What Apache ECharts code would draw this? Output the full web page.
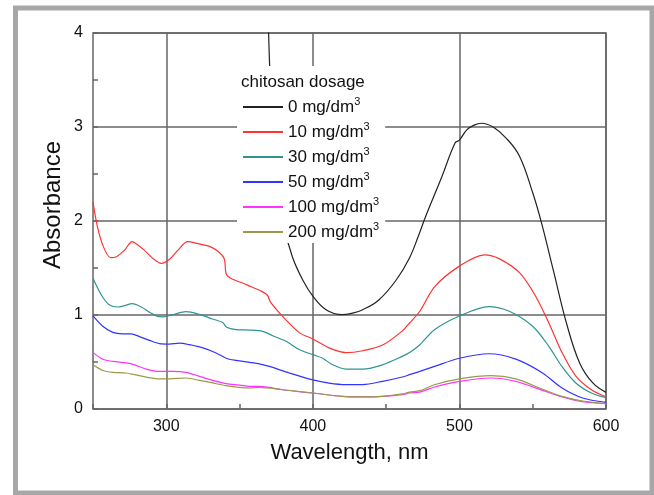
<!DOCTYPE html>
<html lang="en">
<head>
  <meta charset="UTF-8">
  <title>Absorbance spectra</title>
  <script src="https://cdn.jsdelivr.net/npm/echarts@6/dist/echarts.min.js"></script>
</head>
<body style="margin:0;background:#fff">
  <div id="container" style="width:654px;height:495px;"></div>
  <script>
    // wavelength (nm) and absorbance per dosage
    var names = ['0 mg/dm', '10 mg/dm', '30 mg/dm', '50 mg/dm', '100 mg/dm', '200 mg/dm'];
    var colors = ['#222222', '#ff3333', '#2f9393', '#3333ff', '#ff33ff', '#9a9a48'];

    var wl0 = [369, 371.5, 376, 381, 386, 393, 400, 409, 420, 427, 434, 445, 457, 466, 472, 477, 488, 497, 500, 505, 510, 515, 523, 532, 541, 550, 556, 564, 573, 582, 591, 600];
    var abs0 = [4.6, 3.3, 2.5, 1.91, 1.62, 1.375, 1.2, 1.056, 1.003, 1.02, 1.056, 1.16, 1.375, 1.61, 1.84, 2.05, 2.47, 2.83, 2.86, 2.97, 3.02, 3.04, 3.0, 2.88, 2.69, 2.3, 1.98, 1.48, 0.915, 0.49, 0.277, 0.177];

    var wl10 = [250, 253, 257, 262, 266, 271.5, 276.7, 281, 285, 291, 296.5, 302, 308, 314.6, 321.5, 329.4, 335, 339.5, 341, 345.3, 352, 358, 364, 369, 371, 379.4, 391, 400, 411, 422.6, 434, 447.6, 461, 466, 473, 483, 500, 517, 527, 541, 552, 561, 570, 579.4, 590, 600];
    var abs10 = [2.2, 1.94, 1.73, 1.61, 1.62, 1.69, 1.78, 1.74, 1.69, 1.6, 1.55, 1.59, 1.69, 1.78, 1.76, 1.73, 1.68, 1.6, 1.43, 1.38, 1.34, 1.3, 1.26, 1.21, 1.14, 0.985, 0.81, 0.745, 0.65, 0.6, 0.62, 0.68, 0.83, 0.915, 1.04, 1.3, 1.52, 1.64, 1.6, 1.45, 1.2, 0.915, 0.6, 0.35, 0.205, 0.13];

    var wl30 = [250, 255.6, 261, 267, 271.5, 276.7, 283, 288.5, 294, 298, 304.4, 313.5, 322.6, 331.7, 338.5, 341.2, 347.6, 357, 365.8, 372.6, 381.7, 391, 400, 406.7, 413.5, 422.6, 434, 447.6, 461, 466, 473, 483, 500, 520, 534, 550, 561, 570, 579.4, 590, 600];
    var abs30 = [1.39, 1.216, 1.11, 1.085, 1.1, 1.12, 1.085, 1.03, 0.985, 0.98, 1.003, 1.035, 1.006, 0.957, 0.92, 0.87, 0.845, 0.84, 0.826, 0.78, 0.72, 0.63, 0.578, 0.54, 0.47, 0.425, 0.425, 0.47, 0.56, 0.6, 0.684, 0.844, 0.99, 1.09, 1.04, 0.88, 0.666, 0.45, 0.277, 0.17, 0.12];

    var wl50 = [250, 256.7, 263.5, 270, 276, 281.7, 288.5, 295.3, 302, 309, 315.8, 325, 334, 340.8, 347.6, 357, 363.5, 370.3, 384, 400, 411, 422.6, 434, 447.6, 461, 466, 473, 483, 500, 520, 538.5, 556.7, 570, 584, 600];
    var abs50 = [0.99, 0.88, 0.815, 0.8, 0.8, 0.77, 0.73, 0.695, 0.69, 0.7, 0.684, 0.65, 0.596, 0.54, 0.517, 0.496, 0.48, 0.453, 0.383, 0.31, 0.276, 0.26, 0.26, 0.294, 0.34, 0.365, 0.4, 0.453, 0.54, 0.588, 0.53, 0.383, 0.223, 0.117, 0.07];

    var wl100 = [250, 256.7, 263.5, 272.6, 278.3, 286.3, 295.3, 304.4, 313.5, 322.6, 331.7, 340.8, 350, 357, 363.5, 379.4, 400, 420, 434, 447.6, 461, 466, 473, 483, 500, 521.5, 538.5, 556.7, 570, 584, 600];
    var abs100 = [0.6, 0.53, 0.506, 0.49, 0.47, 0.425, 0.4, 0.4, 0.39, 0.347, 0.304, 0.27, 0.255, 0.24, 0.24, 0.205, 0.17, 0.134, 0.128, 0.134, 0.152, 0.17, 0.18, 0.234, 0.294, 0.33, 0.294, 0.198, 0.128, 0.078, 0.056];

    var wl200 = [250, 256.7, 263.5, 272.6, 278.3, 286.3, 295.3, 302, 313.5, 322.6, 331.7, 340.8, 350, 357, 363.5, 379.4, 400, 420, 434, 447.6, 461, 466, 473, 483, 500, 521.5, 538.5, 556.7, 570, 584, 600];
    var abs200 = [0.47, 0.41, 0.39, 0.383, 0.365, 0.34, 0.32, 0.32, 0.33, 0.304, 0.277, 0.248, 0.23, 0.224, 0.23, 0.205, 0.17, 0.134, 0.128, 0.134, 0.16, 0.18, 0.195, 0.258, 0.32, 0.354, 0.32, 0.21, 0.135, 0.085, 0.056];

    var xLabels = [300, 400, 500, 600];

    var curves = [[wl0, abs0], [wl10, abs10], [wl30, abs30], [wl50, abs50], [wl100, abs100], [wl200, abs200]];

    function pairs(xs, ys) {
      return xs.map(function (x, i) { return [x, ys[i]]; });
    }

    var font = 'Liberation Sans, Arial, sans-serif';
    var myChart = echarts.init(document.getElementById('container'));

    myChart.setOption({
      backgroundColor: '#fff',
      animation: false,
      title: {
        text: 'chitosan dosage',
        left: 241,
        top: 74,
        padding: 0,
        textStyle: { fontFamily: font, fontSize: 17, fontWeight: 'normal', color: '#111' }
      },
      graphic: [{
        type: 'rect',
        shape: { x: 15.5, y: 8, width: 636.5, height: 485 },
        style: { fill: 'none', stroke: '#a7a7a9', lineWidth: 5 }
      }],
      legend: {
        orient: 'vertical',
        left: 237,
        top: 66,
        padding: [30, 6, 0, 5],
        itemGap: 3,
        itemWidth: 40,
        itemHeight: 14,
        backgroundColor: '#fff',
        itemStyle: { opacity: 0 },
        lineStyle: { width: 2 },
        data: names,
        formatter: function (name) { return name + '{s|3}'; },
        textStyle: {
          fontFamily: font, fontSize: 17, lineHeight: 22, color: '#111',
          rich: { s: { fontFamily: font, fontSize: 11, lineHeight: 7, verticalAlign: 'top', color: '#111' } }
        }
      },
      grid: {
        left: 93, right: 48, top: 33, bottom: 86,
        show: true, borderColor: '#666', borderWidth: 1.5
      },
      xAxis: {
        type: 'value',
        min: 250, max: 600, interval: 50,
        name: 'Wavelength, nm',
        nameLocation: 'middle',
        nameGap: 33,
        nameTextStyle: { fontFamily: font, fontSize: 22, color: '#111' },
        axisLine: { show: false },
        axisTick: { show: true, inside: true, length: 5, lineStyle: { color: '#666', width: 1.5 } },
        axisLabel: {
          margin: 10, fontFamily: font, fontSize: 16, color: '#111',
          formatter: function (v) { return xLabels.indexOf(v) >= 0 ? String(v) : ''; }
        },
        splitLine: { show: true, lineStyle: { color: ['rgba(0,0,0,0)', '#666'], width: 1.5 } }
      },
      yAxis: {
        type: 'value',
        min: 0, max: 4, interval: 1,
        name: 'Absorbance',
        nameLocation: 'middle',
        nameGap: 28,
        nameMoveOverlap: false,
        nameRotate: 90,
        nameTextStyle: { fontFamily: font, fontSize: 24, color: '#111', padding: [0, 0, 0, 32] },
        axisLine: { show: false },
        axisTick: { show: true, inside: true, length: 5, lineStyle: { color: '#666', width: 1.5 } },
        minorTick: { show: true, splitNumber: 2, length: 5, lineStyle: { color: '#666', width: 1.5 } },
        axisLabel: { margin: 10, fontFamily: font, fontSize: 16, color: '#111' },
        splitLine: { show: true, lineStyle: { color: '#666', width: 1.5 } }
      },
      series: curves.map(function (c, i) {
        return {
          name: names[i],
          type: 'line',
          data: pairs(c[0], c[1]),
          showSymbol: false,
          symbol: 'none',
          smooth: i === 0 ? 0.4 : 0.3,
          clip: true,
          color: colors[i],
          lineStyle: { width: 1.2, color: colors[i] }
        };
      })
    });
  </script>
</body>
</html>
